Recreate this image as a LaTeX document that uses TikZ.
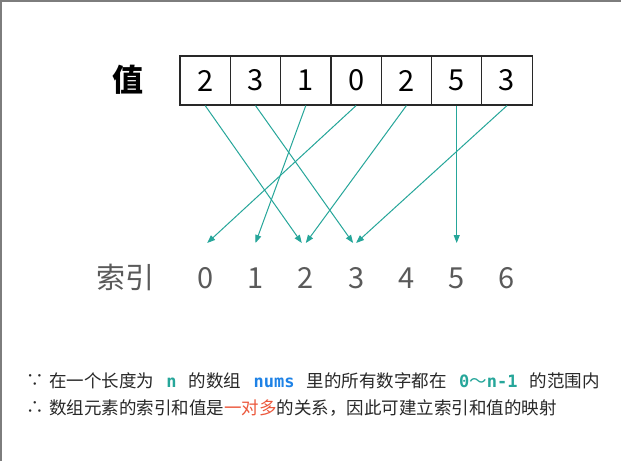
\documentclass[tikz,border=0pt]{standalone}
\usepackage{fontspec}
\setmainfont{Noto Sans CJK SC}
\setmonofont{DejaVu Sans Mono}
\usetikzlibrary{arrows.meta}
\definecolor{mydark}{RGB}{40,40,40}
\definecolor{mygray}{RGB}{90,90,90}
\definecolor{myframe}{RGB}{125,125,125}
\definecolor{myteal}{RGB}{38,166,154}
\definecolor{myblue}{RGB}{30,130,230}
\definecolor{myred}{RGB}{236,88,60}
\newcommand{\bigtxt}{\fontsize{29}{29}\selectfont}
\newcommand{\smalltxt}{\fontsize{17.5}{17.5}\selectfont}
\newcommand{\code}[2]{\textcolor{#1}{\fontsize{17}{17.5}\ttfamily\bfseries #2}}
\tikzset{
  cell/.style={draw=mydark, line width=1.2pt, minimum width=50.3pt, minimum height=49pt, inner sep=0pt, font=\bigtxt},
  idx/.style={text=mygray, inner sep=0pt, font=\bigtxt},
  map/.style={draw=myteal, line width=1pt, -{Triangle[length=8pt,width=6pt]}},
  note/.style={text=mydark, inner sep=0pt, anchor=west, font=\smalltxt}
}
\begin{document}
\begin{tikzpicture}[x=1pt, y=-1pt]
  \useasboundingbox (0,0) rectangle (621,461);
  \fill[white] (0,0) rectangle (621,461);
  \draw[myframe, line width=1.8pt] (0.9,461) -- (0.9,0.9) -- (621,0.9);

  % values
  \node[font=\fontsize{31}{31}\selectfont\bfseries, inner sep=0pt] (val) at (128,80) {值};
  \foreach \v [count=\k from 0] in {2,3,1,0,2,5,3}
    \node[cell] (v\k) at ({205.2+50.3*\k},80.5) {\v};

  % indices
  \node[idx] (key) at (125,277) {索引};
  \foreach \k in {0,...,6} {
    \node[idx] (i\k) at ({205.2+50.3*\k},278) {\k};
    \coordinate (t\k) at ({205.2+50.3*\k},243);
  }

  % value -> index
  \draw[map] (v0.south) -- ([xshift=-4pt]t2);
  \draw[map] (v1.south) -- ([xshift=-3pt]t3);
  \draw[map] (v2.south) -- (t1);
  \draw[map] (v3.south) -- ([xshift=2pt]t0);
  \draw[map] (v4.south) -- (t2);
  \draw[map] (v5.south) -- (t5);
  \draw[map] (v6.south) -- (t3);

  % notes
  \node[note] (because) at (26,381) {∵};
  \node[note] (l1) at (49,381) {在一个长度为\hspace{0.7em}\code{myteal}{n}\hspace{0.7em}的数组\hspace{0.7em}\code{myblue}{nums}\hspace{0.7em}里的所有数字都在\hspace{0.7em}\code{myteal}{0}\textcolor{myteal}{～}\code{myteal}{n-1}\hspace{0.7em}的范围内};
  \node[note] (therefore) at (26,408) {∴};
  \node[note] (l2) at (49,408) {数组元素的索引和值是\textcolor{myred}{一对多}的关系，因此可建立索引和值的映射};
\end{tikzpicture}
\end{document}
